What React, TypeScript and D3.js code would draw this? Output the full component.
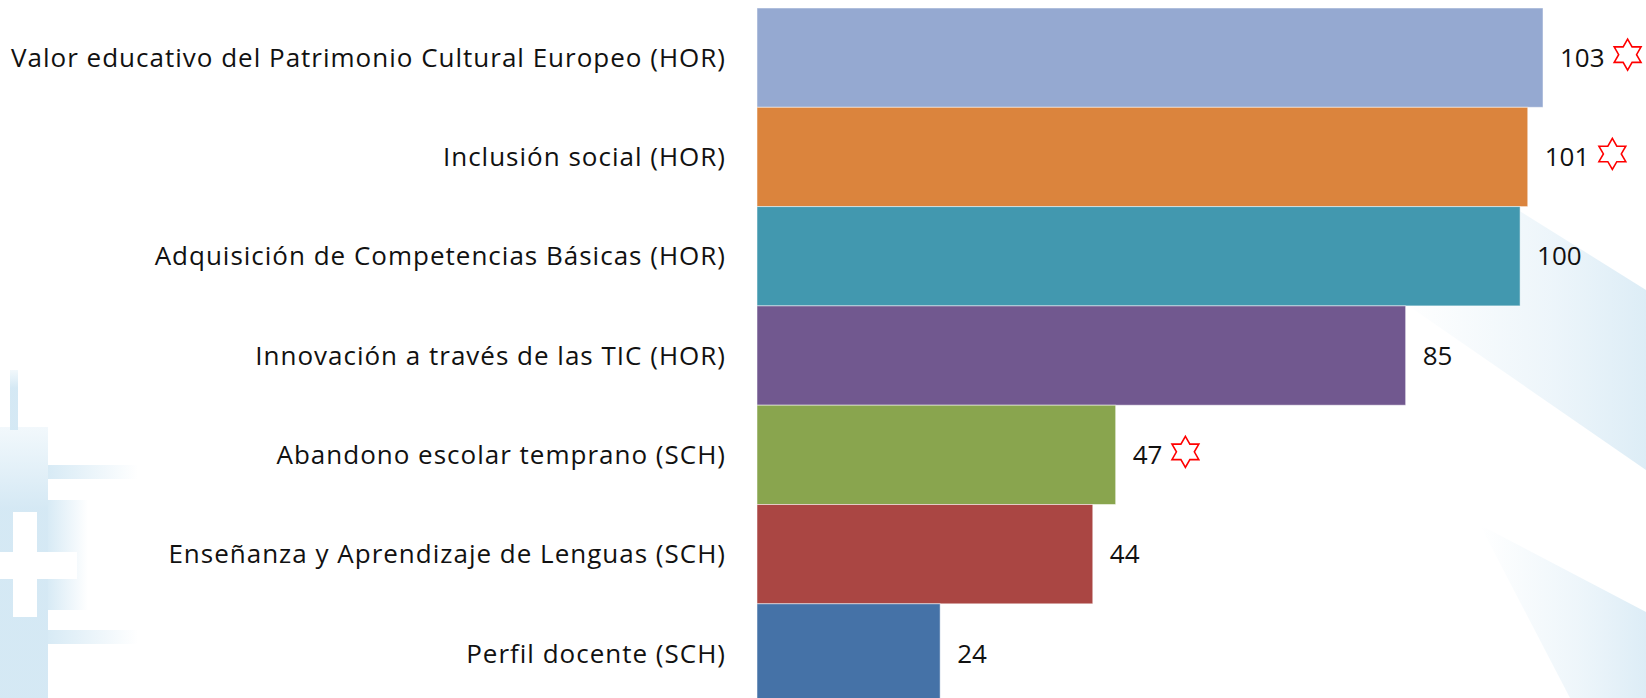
import React, { useEffect, useRef } from 'react';
import * as d3 from 'd3';

const categories = [
  'Valor educativo del Patrimonio Cultural Europeo (HOR)',
  'Inclusión social (HOR)',
  'Adquisición de Competencias Básicas (HOR)',
  'Innovación a través de las TIC (HOR)',
  'Abandono escolar temprano (SCH)',
  'Enseñanza y Aprendizaje de Lenguas (SCH)',
  'Perfil docente (SCH)',
];
const values = [103, 101, 100, 85, 47, 44, 24];
const starred = [true, true, false, false, true, false, false];
const barColors = ['#95a9d1', '#db843d', '#4298af', '#71588f', '#89a54e', '#aa4643', '#4572a7'];

const W = 1646;
const H = 698;

const App = () => {
  const svgRef = useRef<SVGSVGElement>(null);

  useEffect(() => {
    const svg = d3.select(svgRef.current);
    svg.selectAll('*').remove();

    const defs = svg.append('defs');
    const grad = defs.append('linearGradient').attr('id', 'bandGrad')
      .attr('x1', '0').attr('y1', '0').attr('x2', '1').attr('y2', '0');
    grad.append('stop').attr('offset', '0').attr('stop-color', '#d8eaf5').attr('stop-opacity', 0);
    grad.append('stop').attr('offset', '0.6').attr('stop-color', '#d8eaf5').attr('stop-opacity', 0.45);
    grad.append('stop').attr('offset', '1').attr('stop-color', '#d4e8f4').attr('stop-opacity', 0.8);

    const gradL = defs.append('linearGradient').attr('id', 'leftGrad')
      .attr('x1', '0').attr('y1', '0').attr('x2', '1').attr('y2', '0');
    gradL.append('stop').attr('offset', '0').attr('stop-color', '#d3e8f4').attr('stop-opacity', 0.9);
    gradL.append('stop').attr('offset', '1').attr('stop-color', '#d3e8f4').attr('stop-opacity', 0);

    const gradV = defs.append('linearGradient').attr('id', 'leftV')
      .attr('x1', '0').attr('y1', '0').attr('x2', '0').attr('y2', '1');
    gradV.append('stop').attr('offset', '0').attr('stop-color', '#d3e8f4').attr('stop-opacity', 0.3);
    gradV.append('stop').attr('offset', '0.3').attr('stop-color', '#d0e6f3').attr('stop-opacity', 0.9);
    gradV.append('stop').attr('offset', '1').attr('stop-color', '#d0e6f3').attr('stop-opacity', 0.9);

    svg.append('rect').attr('width', W).attr('height', H).attr('fill', '#ffffff');

    // background decoration, right
    const bg = svg.append('g');
    bg.append('polygon')
      .attr('points', '1510,205 1646,290 1646,470 1400,300')
      .attr('fill', 'url(#bandGrad)');
    bg.append('polygon')
      .attr('points', '1480,525 1646,612 1646,698 1570,698')
      .attr('fill', 'url(#bandGrad)');

    // background decoration, left (pixel cross)
    const lg = svg.append('g');
    lg.append('rect').attr('x', 10).attr('y', 370).attr('width', 8).attr('height', 60).attr('fill', 'url(#leftV)');
    lg.append('rect').attr('x', 0).attr('y', 427).attr('width', 48).attr('height', 271).attr('fill', 'url(#leftV)');
    lg.append('rect').attr('x', 48).attr('y', 465).attr('width', 90).attr('height', 14).attr('fill', 'url(#leftGrad)');
    lg.append('rect').attr('x', 48).attr('y', 500).attr('width', 40).attr('height', 110).attr('fill', 'url(#leftGrad)');
    lg.append('rect').attr('x', 48).attr('y', 630).attr('width', 90).attr('height', 14).attr('fill', 'url(#leftGrad)');
    lg.append('rect').attr('x', 13).attr('y', 512).attr('width', 24).attr('height', 105).attr('fill', '#ffffff');
    lg.append('rect').attr('x', 0).attr('y', 552).attr('width', 77).attr('height', 27).attr('fill', '#ffffff');

    const y = d3.scaleBand<number>()
      .domain(d3.range(categories.length))
      .range([8, 8 + 99.3 * categories.length])
      .padding(0);

    const x = d3.scaleLinear().domain([0, 103]).range([757, 1543]);

    const font = '"Open Sans", "Noto Sans", sans-serif';

    svg.append('g').selectAll('rect')
      .data(values)
      .join('rect')
      .attr('x', x(0))
      .attr('y', (_, i) => y(i)!)
      .attr('width', d => x(d) - x(0))
      .attr('height', y.bandwidth())
      .attr('fill', (_, i) => barColors[i])
      .attr('stroke', 'rgba(255,255,255,0.5)')
      .attr('stroke-width', 1);

    svg.append('g').selectAll('text')
      .data(categories)
      .join('text')
      .attr('x', 726)
      .attr('y', (_, i) => y(i)! + y.bandwidth() / 2)
      .attr('dy', '0.35em')
      .attr('text-anchor', 'end')
      .attr('font-family', font)
      .attr('font-size', 26)
      .attr('letter-spacing', 1)
      .attr('fill', '#111')
      .text(d => d);

    const labels = svg.append('g');
    values.forEach((v, i) => {
      const cy = y(i)! + y.bandwidth() / 2;
      const t = labels.append('text')
        .attr('x', x(v) + 17)
        .attr('y', cy)
        .attr('dy', '0.35em')
        .attr('font-family', font)
        .attr('font-size', 26)
        .attr('fill', '#111')
        .text(String(v));
      if (starred[i]) {
        const tw = (t.node() as SVGTextElement).getComputedTextLength();
        const cx = x(v) + 17 + tw + 8 + 15;
        const R = 15.5;
        const r = R / Math.sqrt(3);
        const pts: [number, number][] = d3.range(12).map(k => {
          const a = -Math.PI / 2 + (k * Math.PI) / 6;
          const rr = k % 2 === 0 ? R : r;
          return [cx + rr * Math.cos(a), cy - 3 + rr * Math.sin(a)];
        });
        labels.append('polygon')
          .attr('points', pts.map(p => p.join(',')).join(' '))
          .attr('fill', 'none')
          .attr('stroke', '#ff0000')
          .attr('stroke-width', 1.6);
      }
    });
  }, []);

  return (
    <svg
      ref={svgRef}
      width={W}
      height={H}
      style={{ position: 'absolute', left: 0, top: 0, display: 'block' }}
    />
  );
};

export default App;
